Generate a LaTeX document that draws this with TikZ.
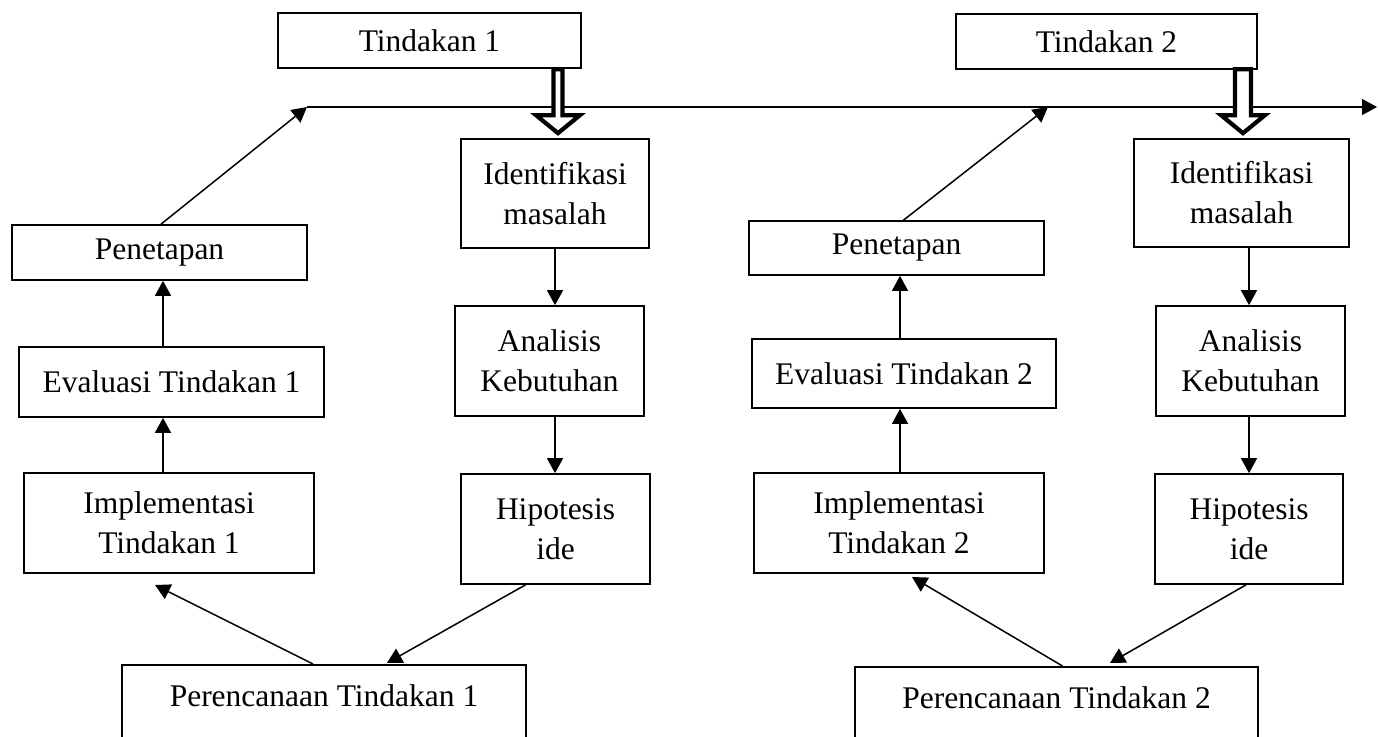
\documentclass[tikz,border=0pt]{standalone}
\usepackage{fontspec}
\setmainfont{Liberation Serif}
\usetikzlibrary{arrows.meta,calc}
\begin{document}
\begin{tikzpicture}[x=1pt,y=-1pt,
  box/.style={draw,line width=1.7pt,inner sep=0pt,align=center,font=\fontsize{31.5}{40}\selectfont},
  arr/.style={line width=1.5pt,-{Triangle[width=16pt,length=15pt]}},
  blk/.style={draw,line width=4.2pt,fill=white,line join=miter}]
\clip (0,0) rectangle (1378,736);
% top boxes
\node[box,minimum width=303,minimum height=55] (t1) at (429.5,40.5) {Tindakan 1};
\node[box,minimum width=301,minimum height=55] (t2) at (1106.5,41.5) {Tindakan 2};
% middle columns
\node[box,minimum width=188,minimum height=109] (id1) at (555,193.5) {Identifikasi\\masalah};
\node[box,minimum width=189,minimum height=110] (an1) at (549.5,361) {Analisis\\Kebutuhan};
\node[box,minimum width=189,minimum height=110] (hip1) at (555.5,529) {Hipotesis\\ide};
\node[box,minimum width=215,minimum height=108] (id2) at (1241.5,193) {Identifikasi\\masalah};
\node[box,minimum width=189,minimum height=110] (an2) at (1250.5,361) {Analisis\\Kebutuhan};
\node[box,minimum width=188,minimum height=110] (hip2) at (1249,529) {Hipotesis\\ide};
% left columns
\node[box,minimum width=295,minimum height=55] (pen1) at (159.5,252.5) {Penetapan};
\node[box,minimum width=305,minimum height=70] (ev1) at (171.5,382) {Evaluasi Tindakan 1};
\node[box,minimum width=290,minimum height=100] (imp1) at (169,523) {Implementasi\\Tindakan 1};
\node[box,minimum width=295,minimum height=54] (pen2) at (896.5,248) {Penetapan};
\node[box,minimum width=304,minimum height=69] (ev2) at (904,373.5) {Evaluasi Tindakan 2};
\node[box,minimum width=290,minimum height=100] (imp2) at (899,523) {Implementasi\\Tindakan 2};
% bottom boxes
\node[box,align=none,minimum width=404,text height=42pt,text depth=100pt,anchor=north] (per1) at (324,664) {Perencanaan Tindakan 1};
\node[box,align=none,minimum width=403,text height=42pt,text depth=100pt,anchor=north] (per2) at (1056.5,666) {Perencanaan Tindakan 2};
% timeline
\coordinate (ls) at (307,107);
\coordinate (lm) at (1048,107);
\coordinate (le) at (1377,107);
\draw[arr] (ls) -- (le);
\draw[arr] ([xshift=1.5pt]pen1.north) -- (ls);
\draw[arr] ([xshift=7pt]pen2.north) -- (lm);
% vertical arrows
\coordinate (c1) at (163,0);
\coordinate (c2) at (900,0);
\draw[arr] (imp1.north -| c1) -- (ev1.south -| c1);
\draw[arr] (ev1.north -| c1) -- (pen1.south -| c1);
\draw[arr] (imp2.north -| c2) -- (ev2.south -| c2);
\draw[arr] (ev2.north -| c2) -- (pen2.south -| c2);
\draw[arr] (id1.south) -- (an1.north -| id1.south);
\draw[arr] (an1.south -| id1.south) -- (hip1.north -| id1.south);
\draw[arr] (id2.south -| hip2.north) -- (an2.north -| hip2.north);
\draw[arr] (an2.south -| hip2.north) -- (hip2.north);
% diagonal arrows at bottom
\coordinate (p1t) at (155,585);
\coordinate (p1h) at (387,663);
\coordinate (p2t) at (912,577);
\coordinate (p2h) at (1110,663);
\draw[arr] ([xshift=-11pt]per1.north) -- (p1t);
\draw[arr] ([xshift=-30pt]hip1.south) -- (p1h);
\draw[arr] ([xshift=6pt]per2.north) -- (p2t);
\draw[arr] ([xshift=-3pt]hip2.south) -- (p2h);
% hollow block arrows
\coordinate (b1) at ([xshift=3pt,yshift=5pt]id1.north);
\coordinate (b2) at ([xshift=1.5pt,yshift=5pt]id2.north);
\draw[blk] (b1) -- ++(22,-18) -- ++(-17.5,0) -- ++(0,-46) -- ++(-9,0) -- ++(0,46) -- ++(-17.5,0) -- cycle;
\draw[blk] (b2) -- ++(22,-18) -- ++(-14,0) -- ++(0,-46) -- ++(-16,0) -- ++(0,46) -- ++(-14,0) -- cycle;
\end{tikzpicture}
\end{document}
